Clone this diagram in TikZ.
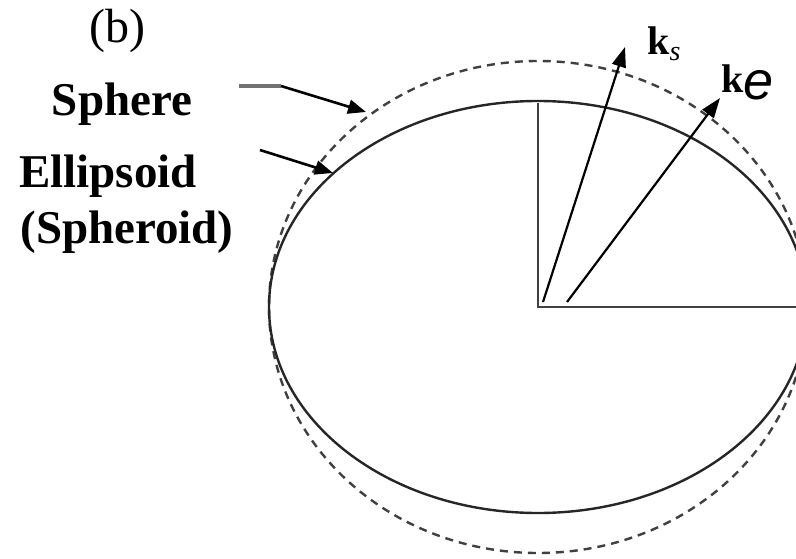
\documentclass[tikz,border=0pt]{standalone}
\usepackage{fontspec}
\setmainfont{Liberation Serif}
\setsansfont{Liberation Sans}
\usetikzlibrary{arrows.meta,positioning,calc}

\begin{document}
\begin{tikzpicture}[x=0.5pt, y=0.5pt,
  lbl/.style={font=\fontsize{23.5}{28}\selectfont\bfseries, inner sep=0pt, anchor=base},
  vec/.style={-{Triangle[length=10pt, width=7pt]}, line width=1.1pt},
  ptr/.style={-{Triangle[length=9pt, width=7pt]}, line width=1.3pt},
  shell/.style={line width=1.2pt, black!85},
  sphere/.style={line width=1.2pt, black!75, dash pattern=on 4pt off 3pt}
]
\useasboundingbox (0,0) rectangle (796,558);
% centre and axes
\coordinate (O) at (538,251);
\coordinate (top) at (538,455);
\coordinate (east) at (800,251);
\draw[sphere] (O) ellipse [x radius=269, y radius=246];
\draw[shell] (O) ellipse [x radius=269, y radius=206];
\draw[line width=1.4pt, black!75] (top) -- (O) -- (east);
% wave vectors
\coordinate (ks0) at (543,256);
\coordinate (ks1) at (625,511);
\coordinate (ke0) at (567,256);
\coordinate (ke1) at (720,460);
\draw[vec] (ks0) -- (ks1);
\draw[vec] (ke0) -- (ke1);
\node[anchor=base west, inner sep=0pt] (kslbl) at (647,503)
  {\fontsize{20}{24}\selectfont\textbf{k}\raisebox{-3pt}{\fontsize{14}{16}\selectfont\itshape s}};
\node[anchor=base west, inner sep=0pt] (kelbl) at (721,466)
  {\fontsize{20}{24}\selectfont\textbf{k}\raisebox{-3.5pt}{\fontsize{27}{30}\selectfont\sffamily\itshape e}};
% labels
\node[anchor=base, inner sep=0pt, font=\fontsize{24}{28}\selectfont] (tag) at (117,515) {(b)};
\node[lbl] (sph) at (122,443) {Sphere};
\node[lbl] (ell) at (108,371) {Ellipsoid};
\node[lbl] (sphd) at (127,315) {(Spheroid)};
% pointers
\coordinate (p0) at (239,472);
\coordinate (p1) at (281,472);
\coordinate (p2) at (366,446);
\coordinate (q0) at (260,408);
\coordinate (q1) at (333,385);
\draw[line width=2.4pt, black!55] (p0) -- (p1);
\draw[ptr] (p1) -- (p2);
\draw[ptr] (q0) -- (q1);
\end{tikzpicture}
\end{document}
